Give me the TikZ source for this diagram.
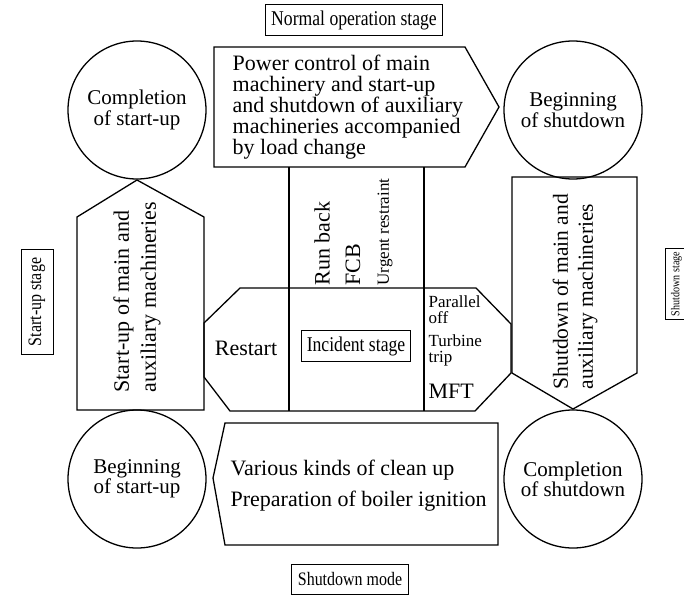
\documentclass[tikz,border=0pt]{standalone}
\usepackage{fontspec}
\usepackage{graphicx}
\usetikzlibrary{positioning}

\setmainfont{Liberation Serif}
% squeezed face for the stage tags
\newcommand\tagtext[1]{\scalebox{0.84}[1]{#1}}

\begin{document}
\begin{tikzpicture}[x=1pt,y=-1pt,line width=1.3pt,
  event/.style={draw,circle,minimum size=138pt,inner sep=0pt,align=center,
    font=\fontsize{21}{19}\selectfont},
  body/.style={inner sep=0pt,font=\fontsize{22}{21}\selectfont},
  small/.style={inner sep=0pt,font=\fontsize{17}{16}\selectfont},
  tag/.style={draw,line width=1pt,inner sep=2pt,font=\fontsize{21}{21}\selectfont}]
\clip (0,0) rectangle (684,594);
\fill[white] (0,0) rectangle (684,594);

% the four events
\foreach \nm/\x/\y/\txt in {
  cs/137/110/{Completion\\of start-up},
  bs/573/110/{Beginning\\of shutdown},
  bu/137/479/{Beginning\\of start-up},
  cd/573/479/{Completion\\of shutdown}}
{
  \node[event] (\nm) at (\x,\y) {\txt};
}

% normal operation
\draw (214,47) -- (465,47) -- (499,107) -- (465,167) -- (214,167) -- cycle;
\node[body,align=left,anchor=west] (power) at (232,107)
  {Power control of main\\machinery and start-up\\and shutdown of auxiliary\\machineries accompanied\\by load change};

% start-up and shutdown arrows
\draw (77,410) -- (77,217) -- (137,180) -- (204,217) -- (204,410) -- cycle;
\node[body,rotate=90,align=left,anchor=west,font=\fontsize{22}{27}\selectfont] (startup) at (137,393)
  {Start-up of main and\\auxiliary machineries};
\draw (512,177) -- (637,177) -- (637,373) -- (573,409) -- (512,373) -- cycle;
\node[body,rotate=90,align=left,anchor=west,font=\fontsize{21.5}{25}\selectfont] (shutdown) at (575,390)
  {Shutdown of main and\\auxiliary machineries};

% incident block
\draw (289,167) -- (289,411);
\draw (424,167) -- (424,411);
\draw (240,288) -- (476,288) -- (511,324) -- (511,373) -- (475,411) -- (230,411) -- (204,377) -- (204,323) -- cycle;
\foreach \nm/\x/\txt/\st in {rb/322/Run back/body, fcb/353/FCB/body, ur/385/Urgent restraint/small}
{
  \node[\st,rotate=90,anchor=west] (\nm) at (\x,286) {\txt};
}
\node[body] (restart) at (246,348) {Restart};
\node[tag,minimum width=109pt,minimum height=31pt] (incident) at (356,346) {\tagtext{Incident stage}};
\node[small,align=left,anchor=west] (paroff) at (428,310) {Parallel\\off};
\node[small,align=left,anchor=west] (ttrip) at (428,350) {Turbine\\trip};
\node[body,anchor=west] (mft) at (428,391) {MFT};

% shutdown mode
\draw (225,423) -- (498,423) -- (498,545) -- (225,545) -- (213,478) -- cycle;
\node[body,align=left,anchor=west,font=\fontsize{22}{31}\selectfont] (clean) at (230,486)
  {Various kinds of clean up\\Preparation of boiler ignition};

% stage tags
\node[tag,minimum width=177pt,minimum height=31pt] (normal) at (354,20) {\tagtext{Normal operation stage}};
\node[tag,rotate=90,minimum width=105pt,minimum height=32pt,font=\fontsize{19}{19}\selectfont] (sustage) at (37,302) {\tagtext{Start-up stage}};
\node[tag,rotate=90,anchor=north,minimum width=71pt,minimum height=22pt,font=\fontsize{12}{12}\selectfont] (sdstage) at (665,284) {\tagtext{Shutdown stage}};
\node[tag,minimum width=117pt,minimum height=30pt,font=\fontsize{19}{19}\selectfont] (sdmode) at (350,579) {\tagtext{Shutdown mode}};
\end{tikzpicture}
\end{document}
